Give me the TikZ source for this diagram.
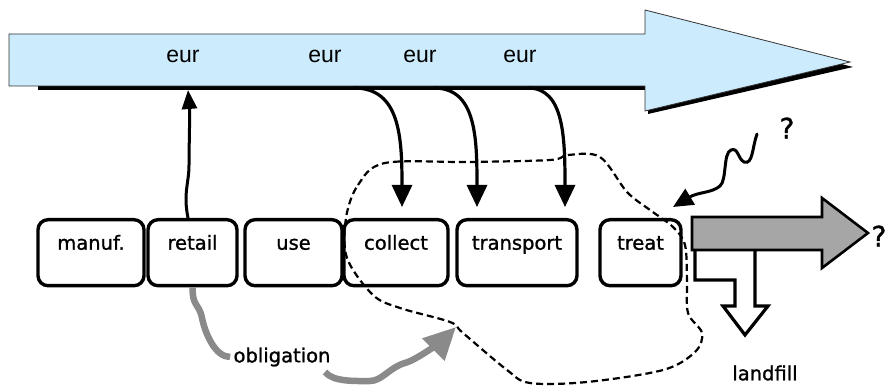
\documentclass[tikz,border=0pt]{standalone}
\usepackage{fontspec}
\setmainfont{Liberation Sans}
\newfontfamily\handfont[FakeBold=1.2]{DejaVu Sans}
\usetikzlibrary{calc,arrows.meta,decorations.pathmorphing}
\definecolor{flowblue}{HTML}{CCEBFD}
\definecolor{dutygray}{HTML}{8A8A8A}
\definecolor{restgray}{HTML}{A6A6A6}
\newcommand{\hand}[1]{\handfont\fontsize{#1}{#1}\selectfont}

\begin{document}
\begin{tikzpicture}[x=1pt,y=-1pt]
  \tikzset{stage/.style={draw, line width=3.4pt, rounded corners=10pt, inner sep=0pt, text height=30pt, text depth=36pt, anchor=north, font=\hand{19.5}},
           money/.style={font=\fontsize{23}{23}\selectfont},
           pay/.style={line width=3.2pt, -{Triangle[length=22pt,width=20pt]}},
           duty/.style={line width=6.5pt, dutygray},
           zone/.style={line width=2.2pt, dash pattern=on 7pt off 4pt},
           word/.style={font=\hand{19.5}},
           ask/.style={font=\hand{28}}}
  \useasboundingbox (0,0) rectangle (887,387);

  \fill (38,38) -- (648,38) -- (648,14) -- (853,67) -- (648,114) -- (648,90) -- (38,90) -- cycle;
  \draw[fill=flowblue, draw=black!80, line width=0.8pt] (9,34) -- (645,34) -- (645,10) -- (850,62) -- (645,111) -- (645,86) -- (9,86) -- cycle;
  \node[money] (eur1) at (183,56) {eur};
  \node[money] (eur2) at (325,56) {eur};
  \node[money] (eur3) at (420,56) {eur};
  \node[money] (eur4) at (520,56) {eur};

  \node[stage, minimum width=106pt] (manuf) at (91,218) {manuf.};
  \node[stage, minimum width=89pt] (retail) at (192.5,218) {retail};
  \node[stage, minimum width=97pt] (use) at (293.5,218) {use};
  \node[stage, minimum width=104pt] (collect) at (396,218) {collect};
  \node[stage, minimum width=120pt] (transport) at (517,218) {transport};
  \node[stage, minimum width=81pt] (treat) at (640.5,218) {treat};

  \coordinate (up) at (188,90);
  \coordinate (pay1) at (354,88);
  \coordinate (pay2) at (434,88);
  \coordinate (pay3) at (528,88);
  \coordinate (get1) at (402,207);
  \coordinate (get2) at (477,207);
  \coordinate (get3) at (565,207);
  \draw[line width=3pt, -{Triangle[length=19pt,width=15pt]}] (retail.north -| up) .. controls +(-5,-25) and +(0,18) .. (189,165) .. controls +(0,-18) and +(2,25) .. (up);
  \draw[pay] (pay1) .. controls +(46,0) and +(0,-70) .. (get1);
  \draw[pay] (pay2) .. controls +(42,0) and +(0,-70) .. (get2);
  \draw[pay] (pay3) .. controls +(36,0) and +(0,-70) .. (get3);

  \draw[line width=3.2pt, line join=miter] (695,250) -- (695,280) -- (735,280) -- (735,306) -- (723,306) -- (745,335) -- (768,306) -- (755,306) -- (755,250);
  \draw[fill=restgray, line width=2.6pt] (692,217) -- (822,217) -- (822,198) -- (868,233) -- (822,268) -- (822,250) -- (692,250) -- cycle;
  \node[ask] (more) at (879,236) {?};
  \node[word] (landfill) at (765,373) {landfill};

  \node[ask] (unknown) at (787,128) {?};
  \coordinate (ask) at (757,134);
  \coordinate (hit) at (673,207);
  \draw[line width=3pt, line cap=round, -{Triangle[length=20pt,width=18pt]}] (ask) .. controls (752,148) and (753,165) .. (744,162) .. controls (738,159) and (738,147) .. (731,150) .. controls (723,153) and (727,180) .. (720,186) .. controls (712,193) and (698,192) .. (hit);

  \draw[zone] plot[smooth cycle, tension=0.55] coordinates {(346,218) (358,185) (385,163) (470,162) (550,160) (568,155) (600,157) (627,192) (650,210) (673,227) (685,245) (687,280) (688,313) (702,333) (695,352) (663,370) (587,382) (530,383) (507,370) (463,333) (450,322) (400,308) (373,295) (347,258)};

  \node[word] (obl) at (282,357) {obligation};
  \coordinate (oblend) at (325,372);
  \coordinate (push) at (456,327);
  \draw[duty] (retail.south) .. controls +(0,20) and +(-3,-15) .. (202,318) .. controls +(3,15) and +(-15,0) .. (obl.west);
  \draw[duty, -{Triangle[length=32pt,width=30pt]}] (oblend) .. controls +(8,10) and +(-15,0) .. (370,381) .. controls +(12,0) and +(-15,4) .. (405,363) .. controls +(14,-4) and +(-10,10) .. (push);
\end{tikzpicture}
\end{document}
